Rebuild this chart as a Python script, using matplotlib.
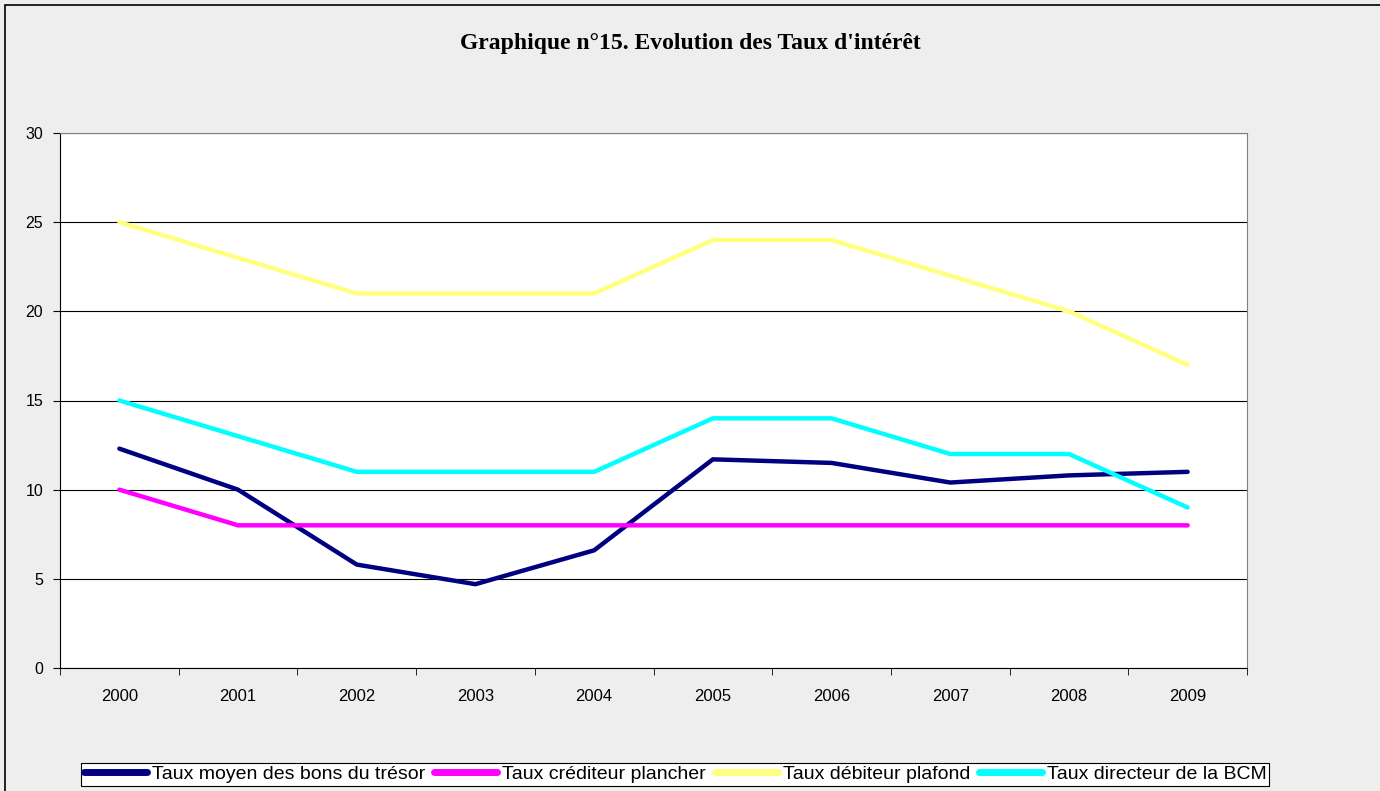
import matplotlib.pyplot as plt
from matplotlib.patches import Rectangle
import numpy as np

# data ----------------------------------------------------------
years = ["2000", "2001", "2002", "2003", "2004", "2005", "2006", "2007", "2008", "2009"]
tresor = [12.3, 10.0, 5.8, 4.7, 6.6, 11.7, 11.5, 10.4, 10.8, 11.0]
crediteur = [10, 8, 8, 8, 8, 8, 8, 8, 8, 8]
debiteur = [25, 23, 21, 21, 21, 24, 24, 22, 20, 17]
directeur = [15, 13, 11, 11, 11, 14, 14, 12, 12, 9]

labels = ["Taux moyen des bons du trésor", "Taux créditeur plancher",
          "Taux débiteur plafond", "Taux directeur de la BCM"]
colors = ["#000080", "#FF00FF", "#FFFF80", "#00FFFF"]

plt.rcParams['font.family'] = ['Liberation Sans', 'DejaVu Sans']

fig = plt.figure(figsize=(13.8, 7.91), dpi=100)
fig.patch.set_facecolor("#EEEEEE")

# outer frame (cropped at right / bottom in the original)
top = 1 - 5 / 791
fig.add_artist(Rectangle((5 / 1380, -0.2), 1.5, top + 0.2,
                         transform=fig.transFigure, fill=False,
                         edgecolor="black", linewidth=1.2, clip_on=False))

ax = fig.add_axes([60 / 1380, 1 - 668 / 791, (1247 - 60) / 1380, (668 - 133) / 791])
ax.set_facecolor("white")

x = np.arange(len(years))
for vals, lab, col in zip([tresor, crediteur, debiteur, directeur], labels, colors):
    ax.plot(x, vals, color=col, linewidth=3.2, label=lab, solid_capstyle='round')

ax.set_xlim(-0.5, len(years) - 0.5)
ax.set_ylim(0, 30)
ax.set_yticks(range(0, 31, 5))
ax.yaxis.grid(True, color="black", linewidth=0.8)
ax.set_axisbelow(True)

# category labels centred, ticks between categories
ax.set_xticks(x)
ax.set_xticklabels(years)
ax.tick_params(axis='x', which='major', length=0, pad=15, labelsize=12)
ax.set_xticks(np.arange(-0.5, len(years)), minor=True)
ax.tick_params(axis='x', which='minor', length=5, direction='out', color='black')
ax.tick_params(axis='y', length=5, direction='out', labelsize=11.5, pad=7)

ax.spines['left'].set_color('black')
ax.spines['bottom'].set_color('black')
ax.spines['top'].set_color('#808080')
ax.spines['right'].set_color('#808080')

fig.text(0.5, 1 - 43 / 791, "Graphique n°15. Evolution des Taux d'intérêt",
         ha='center', va='center', fontsize=17, fontweight='bold',
         family='Liberation Serif')

leg = fig.legend(loc='lower left', bbox_to_anchor=(81 / 1380, 1 - 786 / 791),
                 ncol=4, fontsize=14, frameon=True, fancybox=False,
                 edgecolor='black', facecolor='white', framealpha=1,
                 handlelength=3.25, handletextpad=0.25, columnspacing=0.45,
                 borderpad=0.15, borderaxespad=0)
leg.get_frame().set_linewidth(0.8)
for h in leg.legend_handles:
    h.set_linewidth(5)

fig.savefig("out.png", dpi=100, facecolor=fig.get_facecolor())
